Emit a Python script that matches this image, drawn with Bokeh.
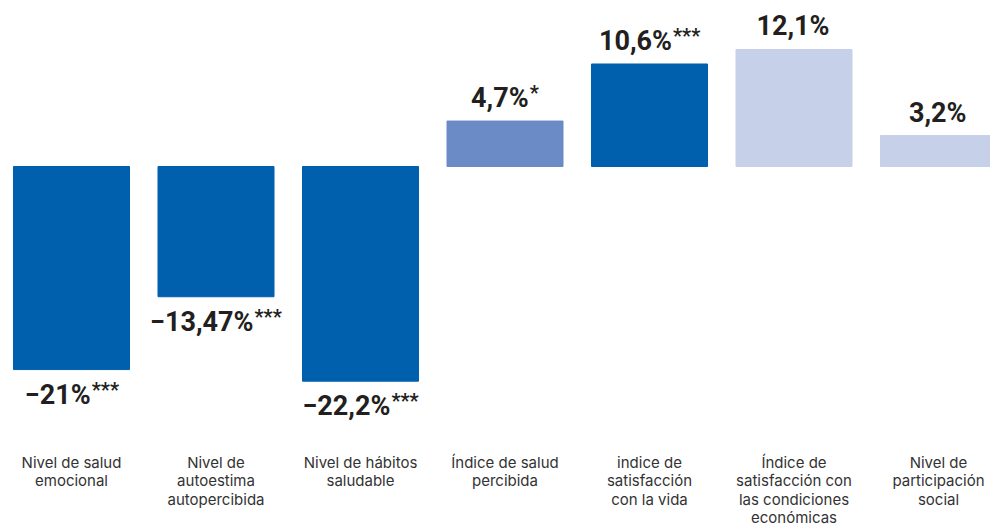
from bokeh.plotting import figure
from bokeh.models import ColumnDataSource, Range1d
from bokeh.core.properties import value
from bokeh.embed import file_html
from bokeh.resources import INLINE

categories = [
    "Nivel de salud\nemocional",
    "Nivel de\nautoestima\nautopercibida",
    "Nivel de hábitos\nsaludable",
    "Índice de salud\npercibida",
    "indice de\nsatisfacción\ncon la vida",
    "Índice de\nsatisfacción con\nlas condiciones\neconómicas",
    "Nivel de\nparticipación\nsocial",
]
values = [-21.0, -13.47, -22.2, 4.7, 10.6, 12.1, 3.2]
value_labels = ["−21%", "−13,47%", "−22,2%", "4,7%", "10,6%", "12,1%", "3,2%"]
significance = ["***", "***", "***", "*", "***", "", ""]

sig_colors = {"***": "#0060AE", "*": "#6A8BC6", "": "#C6D0E9"}

MAIN_SIZE = 27
AST_SIZE = 20
char_em = {"−": 0.55, ",": 0.23, "%": 0.72}


def text_w(s, size):
    return sum(char_em.get(c, 0.5615) for c in s) * size


xs = list(range(len(values)))
colors = [sig_colors[s] for s in significance]
main_w = [text_w(t, MAIN_SIZE) for t in value_labels]
ast_w = [len(s) * 0.435 * AST_SIZE for s in significance]
# anchor at main text right edge, so that main+asterisks is centred on the bar
anchor_off = [(mw - aw) / 2 for mw, aw in zip(main_w, ast_w)]
ast_off = [a + 1 for a in anchor_off]
yoff = [-23 if v > 0 else 25 for v in values]
ast_yoff = [o - 5 for o in yoff]

src = ColumnDataSource(dict(x=xs, value=values, color=colors, label=value_labels,
                            sig=significance, cat=categories, aoff=anchor_off,
                            soff=ast_off, yoff=yoff, ayoff=ast_yoff))

W, H = 990, 528
px_per_x = 144.5
px_per_y = 9.67
x0 = -71 / px_per_x
y1 = 166 / px_per_y

p = figure(width=W, height=H, output_backend="svg", toolbar_location=None,
           x_range=Range1d(x0, x0 + W / px_per_x),
           y_range=Range1d(y1 - H / px_per_y, y1),
           min_border=0, outline_line_color=None)
p.axis.visible = False
p.grid.visible = False
p.background_fill_color = "white"
p.border_fill_color = "white"

p.vbar(x="x", top="value", bottom=0, width=116 / px_per_x, color="color", source=src)

p.text(x="x", y="value", text="label", source=src, x_offset="aoff", y_offset="yoff",
       text_align="right", text_baseline="alphabetic",
       text_font=value("Roboto"), text_font_style="bold",
       text_font_size=f"{MAIN_SIZE}px", text_color="#231F20")
p.text(x="x", y="value", text="sig", source=src, x_offset="soff", y_offset="ayoff",
       text_align="left", text_baseline="alphabetic",
       text_font=value("Roboto"), text_font_style="bold",
       text_font_size=f"{AST_SIZE}px", text_color="#231F20")

label_y = y1 - 452 / px_per_y
p.text(x="x", y=label_y, text="cat", source=src,
       text_align="center", text_baseline="top",
       text_font=value("Inter"), text_font_size="15px",
       text_line_height=0.98, text_color="#333333")

open("out.html", "w").write(file_html(p, INLINE))
